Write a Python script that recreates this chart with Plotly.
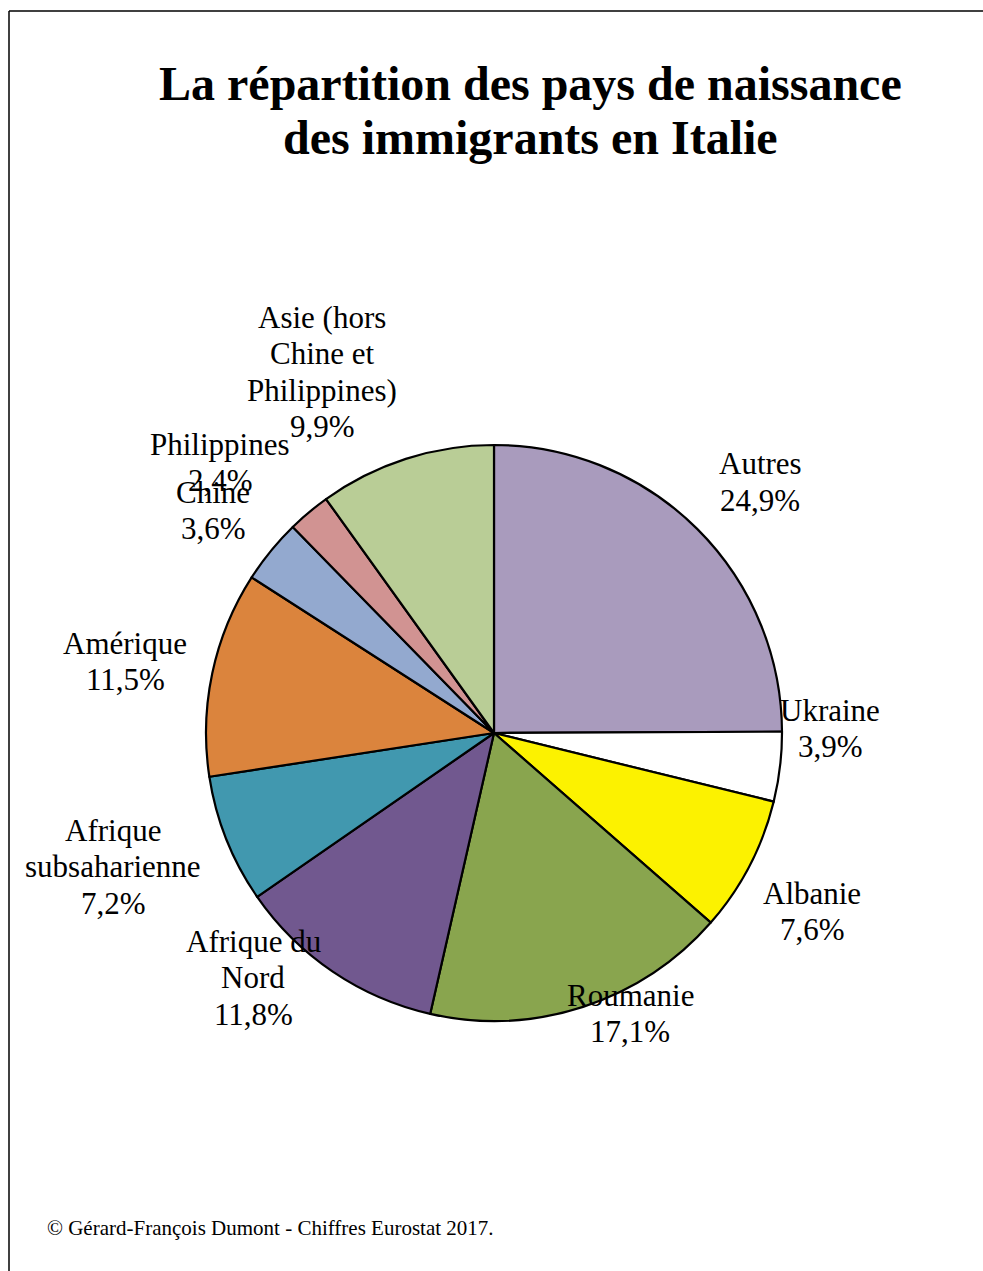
import plotly.graph_objects as go

W, H = 983, 1271

# ---- data ----
categories = ["Autres", "Ukraine", "Albanie", "Roumanie", "Afrique du Nord",
              "Afrique subsaharienne", "Amérique", "Chine", "Philippines",
              "Asie (hors Chine et Philippines)"]
values = [24.9, 3.9, 7.6, 17.1, 11.8, 7.2, 11.5, 3.6, 2.4, 9.9]
label_names = [["Autres"], ["Ukraine"], ["Albanie"], ["Roumanie"],
               ["Afrique du", "Nord"], ["Afrique", "subsaharienne"],
               ["Amérique"], ["Chine"], ["Philippines"],
               ["Asie (hors", "Chine et", "Philippines)"]]
colors = ["#A99BBD", "#FFFFFF", "#FCF200", "#89A54E", "#71588F",
          "#4198AF", "#DB843D", "#93A9CF", "#D19392", "#B9CD96"]
title_lines = ["La répartition des pays de naissance", "des immigrants en Italie"]
source_text = "© Gérard-François Dumont - Chiffres Eurostat 2017."

# ---- layout (pixels) ----
cx, cy, R = 494, 733, 288
# label anchor (center x, center y of the first line) in pixels
label_pos = [(760, 464), (830, 710), (812, 893), (630, 995), (253, 941),
             (113, 830), (125, 643), (213, 492), (220, 444), (322, 317)]
line_gap = 36.5
FONT = "Liberation Serif, Times New Roman, serif"

fig = go.Figure(go.Pie(
    labels=categories, values=values, sort=False, direction="clockwise",
    rotation=0, textinfo="none", hoverinfo="label+percent",
    marker=dict(colors=colors, line=dict(color="black", width=2.2)),
    domain=dict(x=[(cx - R) / W, (cx + R) / W],
                y=[(H - cy - R) / H, (H - cy + R) / H]),
    showlegend=False,
))

anns = []
for names, v, (lx, ly) in zip(label_names, values, label_pos):
    lines = names + [f"{v:.1f}".replace(".", ",") + "%"]
    for i, t in enumerate(lines):
        y = ly + i * line_gap
        anns.append(dict(text=t, x=lx / W, y=1 - y / H, xref="paper", yref="paper",
                         xanchor="center", yanchor="middle", showarrow=False,
                         font=dict(family=FONT, size=31, color="black")))

for i, t in enumerate(title_lines):
    anns.append(dict(text=f"<b>{t}</b>", x=530 / W, y=1 - (84 + i * 53) / H,
                     xref="paper", yref="paper", xanchor="center", yanchor="middle",
                     showarrow=False, font=dict(family=FONT, size=48, color="black")))

anns.append(dict(text=source_text, x=45 / W, y=1 - 1228 / H, xref="paper", yref="paper",
                 xanchor="left", yanchor="middle", showarrow=False,
                 font=dict(family=FONT, size=21, color="black")))

shapes = [
    dict(type="line", xref="paper", yref="paper", x0=9 / W, x1=9 / W, y0=0, y1=1 - 11 / H,
         line=dict(color="black", width=1.5)),
    dict(type="line", xref="paper", yref="paper", x0=9 / W, x1=1, y0=1 - 11 / H, y1=1 - 11 / H,
         line=dict(color="black", width=1.5)),
]

fig.update_layout(width=W, height=H, margin=dict(l=0, r=0, t=0, b=0),
                  paper_bgcolor="white", plot_bgcolor="white",
                  annotations=anns, shapes=shapes)

fig.write_html("out.html")
